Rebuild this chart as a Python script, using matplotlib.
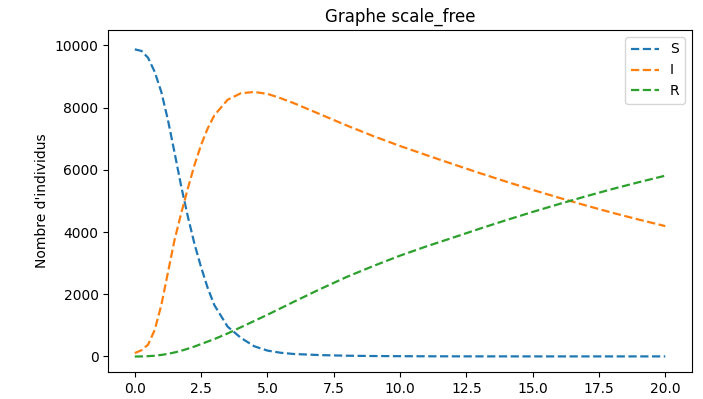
import matplotlib
matplotlib.use("Agg")
import matplotlib.pyplot as plt

t = [0.0, 0.25, 0.5, 0.75, 1.0, 1.25, 1.5, 1.75, 2.0, 2.25, 2.5, 2.75, 3.0, 3.5, 4.0, 4.5, 5.0, 5.5,
     6.0, 7.0, 8.0, 9.0, 10.0, 11.0, 12.0, 13.0, 14.0, 15.0, 16.0, 17.0, 18.0, 19.0, 20.0]
S = [9870, 9820, 9600, 9150, 8500, 7600, 6550, 5470, 4500, 3620, 2870, 2200, 1650, 960, 600, 330, 190, 120,
     80, 45, 25, 15, 10, 7, 5, 4, 4, 3, 3, 3, 3, 3, 3]
I = [110, 200, 380, 850, 1650, 2700, 3750, 4600, 5400, 6150, 6800, 7330, 7750, 8250, 8460, 8500, 8440, 8300,
     8140, 7780, 7420, 7080, 6765, 6470, 6180, 5895, 5620, 5355, 5100, 4855, 4620, 4400, 4190]
R = [0, 2, 10, 25, 50, 85, 130, 185, 250, 320, 400, 480, 560, 740, 940, 1140, 1340, 1550,
     1760, 2170, 2560, 2910, 3240, 3540, 3820, 4105, 4380, 4645, 4900, 5145, 5380, 5600, 5810]

fig = plt.figure(figsize=(7.03, 3.99), dpi=100)
ax = fig.add_axes([0.154, 0.068, 0.830, 0.857])
ax.plot(t, S, '--', color='#1f77b4', lw=1.6, label='S')
ax.plot(t, I, '--', color='#ff7f0e', lw=1.6, label='I')
ax.plot(t, R, '--', color='#2ca02c', lw=1.6, label='R')
ax.set_xticks([0, 2.5, 5, 7.5, 10, 12.5, 15, 17.5, 20])
ax.set_xticklabels(['0.0', '2.5', '5.0', '7.5', '10.0', '12.5', '15.0', '17.5', '20.0'])
ax.set_yticks([0, 2000, 4000, 6000, 8000, 10000])
ax.set_ylim(-494, 10494)
ax.set_xlim(-1.0, 21.0)
ax.set_ylabel("Nombre d'individus")
ax.set_title("Graphe scale_free")
ax.legend(loc='upper right')
fig.savefig("out.png", dpi=100)
